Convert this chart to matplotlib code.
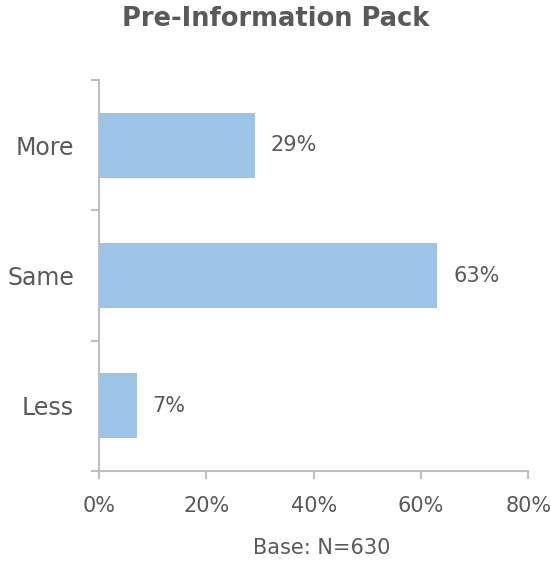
import matplotlib
matplotlib.use("Agg")
import matplotlib.pyplot as plt

# Data
categories = ['More', 'Same', 'Less']
values = [29, 63, 7]
x_ticks = [0, 20, 40, 60, 80]

text_color = '#595959'
axis_color = '#BFBFBF'
bar_color = '#9DC3E6'

plt.rcParams['font.family'] = ['DejaVu Sans']

fig = plt.figure(figsize=(5.51, 5.64), dpi=100)
ax = fig.add_axes([0.1797, 0.165, 0.779, 0.693])

y_pos = list(range(len(categories)))
ax.barh(y_pos, values, height=0.5, color=bar_color)

for y, v in zip(y_pos, values):
    ax.text(v + 3, y, f'{v}%', va='center', ha='left', fontsize=15, color=text_color)

ax.set_xlim(0, 80)
ax.set_ylim(len(categories) - 0.5, -0.5)

ax.set_xticks(x_ticks)
ax.set_xticklabels([f'{t}%' for t in x_ticks], fontsize=15, color=text_color)

# category boundaries get tick marks, labels sit between
ax.set_yticks([i - 0.5 for i in range(len(categories) + 1)])
ax.set_yticklabels([])
ax.set_yticks(y_pos, minor=True)
ax.set_yticklabels(categories, minor=True, fontsize=17, color=text_color)
ax.tick_params(axis='y', which='minor', length=0, pad=18)
ax.tick_params(axis='y', which='major', length=6, color=axis_color, width=1.5)
ax.tick_params(axis='x', length=6, color=axis_color, width=1.5, pad=12)

for side in ['top', 'right']:
    ax.spines[side].set_visible(False)
for side in ['left', 'bottom']:
    ax.spines[side].set_color(axis_color)
    ax.spines[side].set_linewidth(1.5)

ax.set_xlabel('Base: N=630', fontsize=15, color=text_color, labelpad=16)
ax.xaxis.label.set_x(0.518)
fig.suptitle('Pre-Information Pack', fontsize=18.5, fontweight='bold', color=text_color, y=0.99)

fig.savefig('out.png', dpi=100)
